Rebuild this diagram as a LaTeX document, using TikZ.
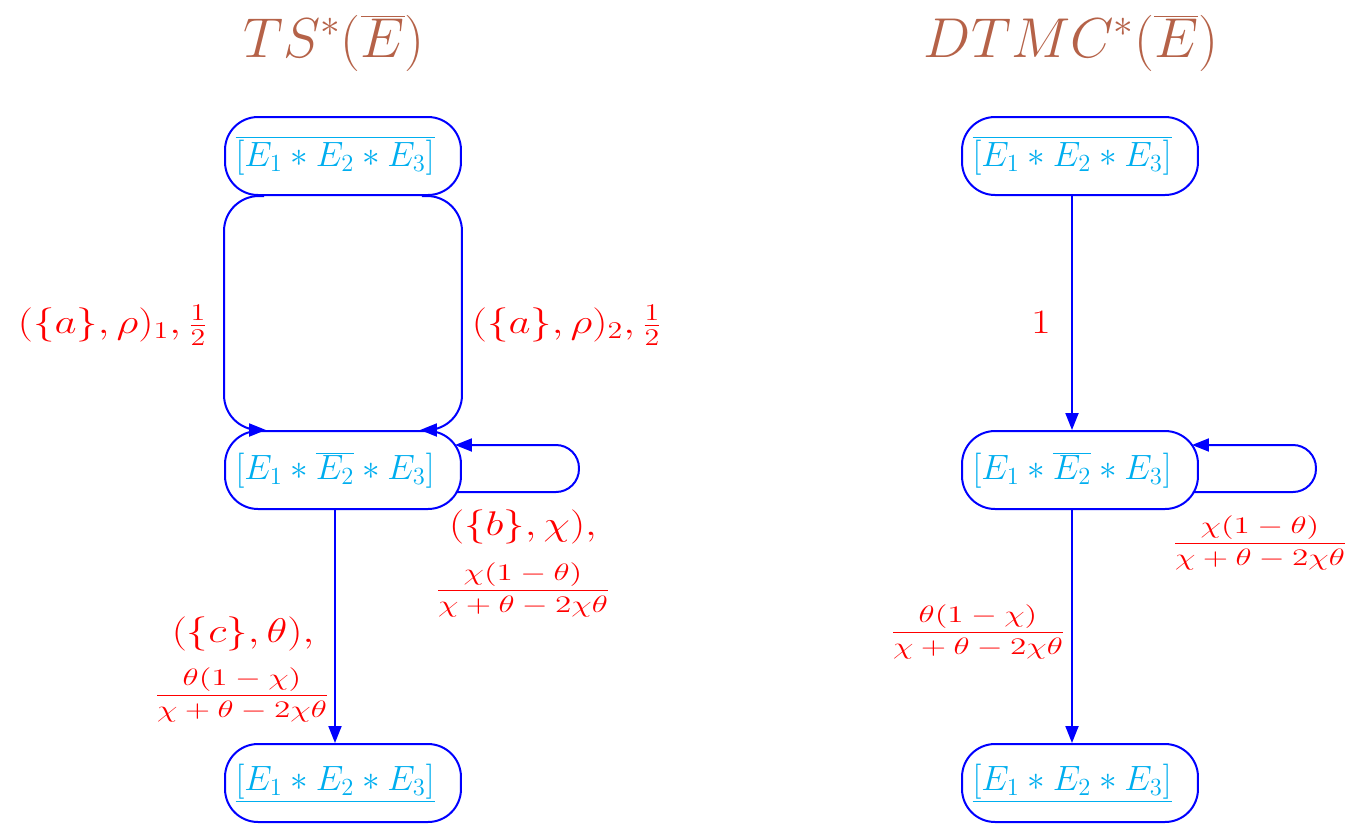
\RequirePackage{fix-cm}
\documentclass[tikz,border=0pt]{standalone}
\usepackage{graphicx}
\usetikzlibrary{arrows.meta,calc}
\definecolor{nodecyan}{RGB}{0,174,239}
\definecolor{titlebrown}{RGB}{181,98,72}
\newcommand\wlab[1]{\scalebox{1.25}[1]{\fontsize{19.5}{23}\selectfont$#1$}}
\newcommand\wfrac[2]{\scalebox{1.4}[1]{\fontsize{13.5}{16}\selectfont$\displaystyle\frac{#1}{#2}$}}
\begin{document}
\begin{tikzpicture}[x=0.02cm,y=-0.02cm,
 state/.style={draw=blue, line width=0.04cm, rounded corners=0.66cm, minimum width=4.72cm, minimum height=1.56cm, inner sep=0pt, text=nodecyan, font=\fontsize{20}{24}\selectfont},
 edge/.style={draw=blue, line width=0.04cm, -{Triangle[length=0.34cm,width=0.26cm]}},
 lab/.style={text=red, inner sep=0pt},
 ttl/.style={text=titlebrown, inner sep=0pt, font=\fontsize{32}{38}\selectfont}]
\useasboundingbox (0,0) rectangle (1349,826);

\node[ttl] (t1) at (334,43) {$TS^*(\overline{E})$};
\node[ttl] (t2) at (1071,43) {$DTMC^*(\overline{E})$};

% left column
\node[state] (T1) at (343,156) {$\overline{[E_1*E_2*E_3]}$\kern9pt};
\node[state] (M1) at (343,470) {$[E_1*\overline{E_2}*E_3]$\kern9pt};
\node[state] (B1) at (343,783) {$\underline{[E_1*E_2*E_3]}$\kern9pt};

% right column
\node[state] (T2) at (1080,156) {$\overline{[E_1*E_2*E_3]}$\kern9pt};
\node[state] (M2) at (1080,470) {$[E_1*\overline{E_2}*E_3]$\kern9pt};
\node[state] (B2) at (1080,783) {$\underline{[E_1*E_2*E_3]}$\kern9pt};

% left edges
\draw[edge, rounded corners=0.7cm] ($(T1.south west)+(40,0)$) -- (T1.south west) -- (M1.north west) -- ($(M1.north west)+(42,0)$);
\draw[edge, rounded corners=0.7cm] ($(T1.south east)+(-40,0)$) -- (T1.south east) -- (M1.north east) -- ($(M1.north east)+(-42,0)$);
\draw[edge, rounded corners=0.46cm] ($(M1.east)+(-6,22)$) -- ($(M1.east)+(117,22)$) -- ($(M1.east)+(117,-25)$) -- ($(M1.east)+(-7,-25)$);
\draw[edge] ($(M1.south)+(-8,0)$) -- ($(B1.north)+(-8,0)$);

% right edges
\draw[edge] ($(T2.south)+(-8,0)$) -- ($(M2.north)+(-8,0)$);
\draw[edge, rounded corners=0.46cm] ($(M2.east)+(-6,22)$) -- ($(M2.east)+(117,22)$) -- ($(M2.east)+(117,-25)$) -- ($(M2.east)+(-7,-25)$);
\draw[edge] ($(M2.south)+(-8,0)$) -- ($(B2.north)+(-8,0)$);

% labels
\node[lab] (l1) at (113,325) {\wlab{(\{a\},\rho)_1,\frac12}};
\node[lab] (l2) at (567,325) {\wlab{(\{a\},\rho)_2,\frac12}};
\node[lab] (l3) at (523,527) {\wlab{(\{b\},\chi),}};
\node[lab] (l4) at (523,590) {\wfrac{\chi(1-\theta)}{\chi+\theta-2\chi\theta}};
\node[lab] (l5) at (243,634) {\wlab{(\{c\},\theta),}};
\node[lab] (l6) at (242,695) {\wfrac{\theta(1-\chi)}{\chi+\theta-2\chi\theta}};
\node[lab] (l7) at (1260,543) {\wfrac{\chi(1-\theta)}{\chi+\theta-2\chi\theta}};
\node[lab] (l8) at (978,632) {\wfrac{\theta(1-\chi)}{\chi+\theta-2\chi\theta}};
\node[lab] (l9) at (1041,322) {\wlab{1}};
\end{tikzpicture}
\end{document}
